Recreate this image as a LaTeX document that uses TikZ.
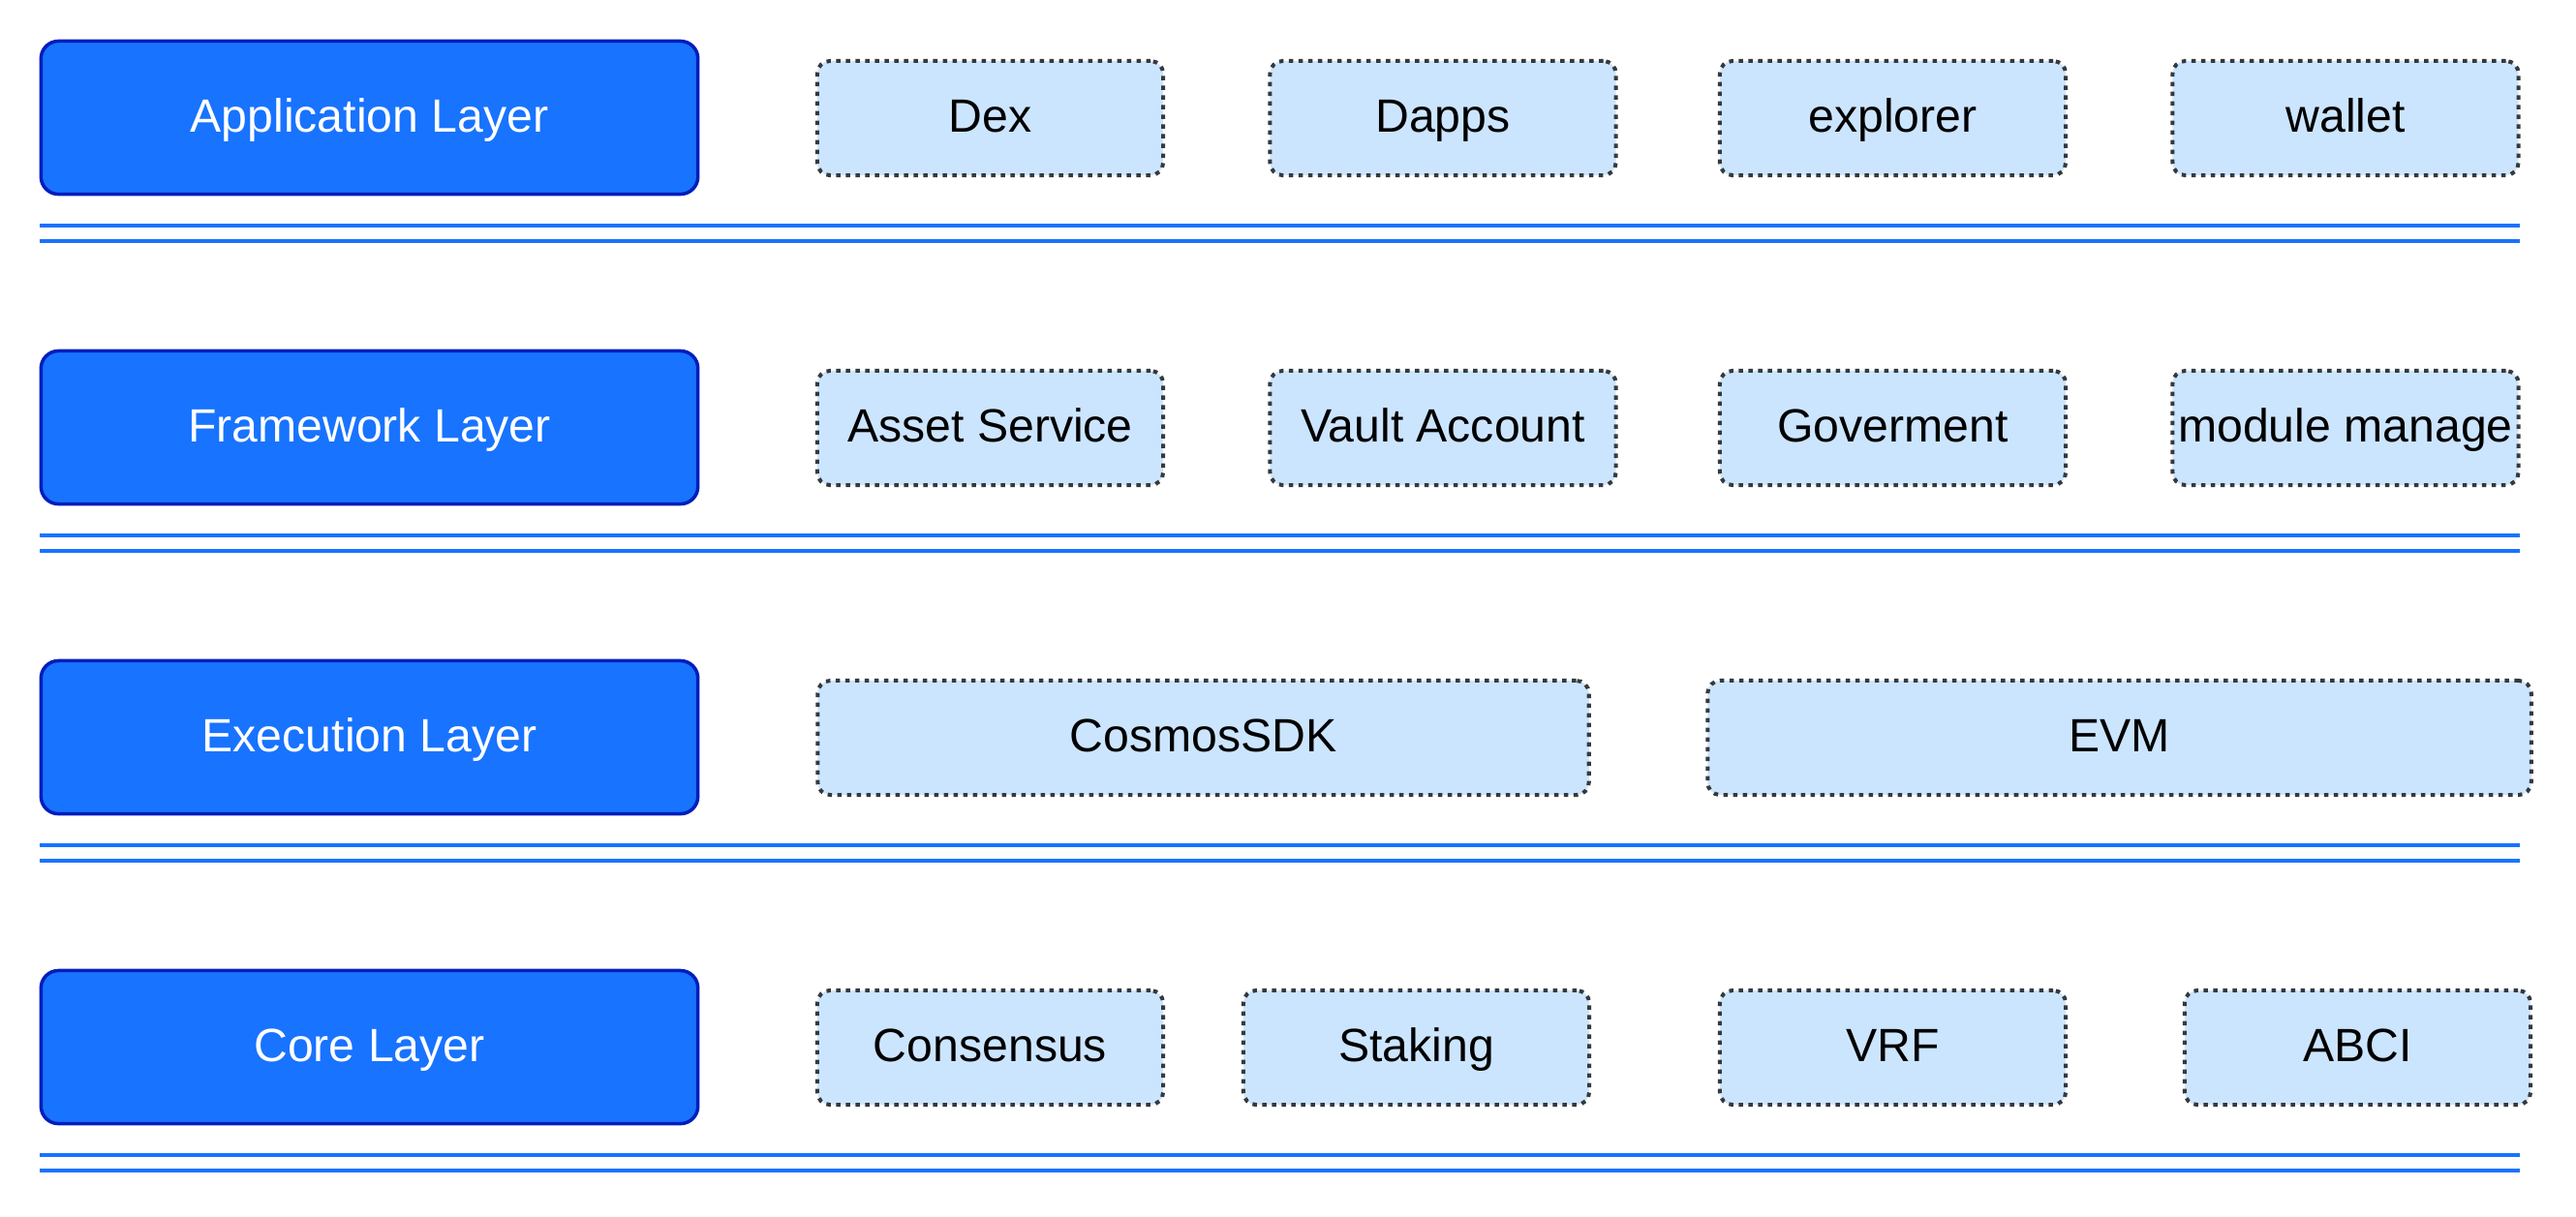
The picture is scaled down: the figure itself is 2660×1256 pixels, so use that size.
\documentclass[tikz,border=0pt]{standalone}
\usepackage{fontspec}
\setmainfont{Liberation Sans}
\definecolor{layerfill}{RGB}{24,115,255}
\definecolor{layerdraw}{RGB}{0,29,188}
\definecolor{modfill}{RGB}{204,229,255}
\definecolor{moddraw}{RGB}{54,57,61}
\definecolor{sepline}{RGB}{24,115,255}
\tikzset{
  layerbox/.style={draw=layerdraw, fill=layerfill, line width=0.035cm, rounded corners=0.18cm,
    minimum width=6.78cm, minimum height=1.58cm, inner sep=0pt, text=white,
    font=\fontsize{13.7}{16}\selectfont, text height=0.35cm, text depth=0.06cm},
  modbox/.style={draw=moddraw, fill=modfill, line width=0.04cm, rounded corners=0.13cm,
    dash pattern=on 0.045cm off 0.055cm,
    minimum width=3.57cm, minimum height=1.18cm, inner sep=0pt, text=black,
    font=\fontsize{13.7}{16}\selectfont, text height=0.35cm, text depth=0.06cm},
  sepstyle/.style={draw=sepline, line width=0.04cm}
}
\begin{document}
\begin{tikzpicture}[x=0.01cm, y=-0.01cm]
\useasboundingbox (0,0) rectangle (2660,1256);
% layer boxes
\node[layerbox] (app) at (381.5,121.5) {Application Layer};
\node[layerbox] (fw) at (381.5,441.5) {Framework Layer};
\node[layerbox] (ex) at (381.5,761.5) {Execution Layer};
\node[layerbox] (core) at (381.5,1081.5) {Core Layer};
% row 1
\node[modbox] (dex) at (1022.5,122) {Dex};
\node[modbox] (dapps) at (1490,122) {Dapps};
\node[modbox] (explorer) at (1954.5,122) {explorer};
\node[modbox] (wallet) at (2422,122) {wallet};
% row 2
\node[modbox] (asset) at (1022.5,442) {Asset Service};
\node[modbox] (vault) at (1490,442) {Vault Account};
\node[modbox] (gov) at (1954.5,442) {Goverment};
\node[modbox] (modm) at (2422,442) {module manage};
% row 3
\node[modbox, minimum width=7.96cm] (cosmos) at (1242.5,762) {CosmosSDK};
\node[modbox, minimum width=8.50cm] (evm) at (2188.5,762) {EVM};
% row 4
\node[modbox] (cons) at (1022.5,1082) {Consensus};
\node[modbox] (stak) at (1462.5,1082) {Staking};
\node[modbox] (vrf) at (1954.5,1082) {VRF};
\node[modbox] (abci) at (2434.5,1082) {ABCI};
% separators
\foreach \yy in {233,553,873,1193}{
  \coordinate (sl\yy) at (41,\yy);
  \coordinate (sr\yy) at (2602,\yy);
  \draw[sepstyle] (sl\yy) -- (sr\yy);
  \draw[sepstyle] ([yshift=-0.16cm]sl\yy) -- ([yshift=-0.16cm]sr\yy);
}
\end{tikzpicture}
\end{document}
